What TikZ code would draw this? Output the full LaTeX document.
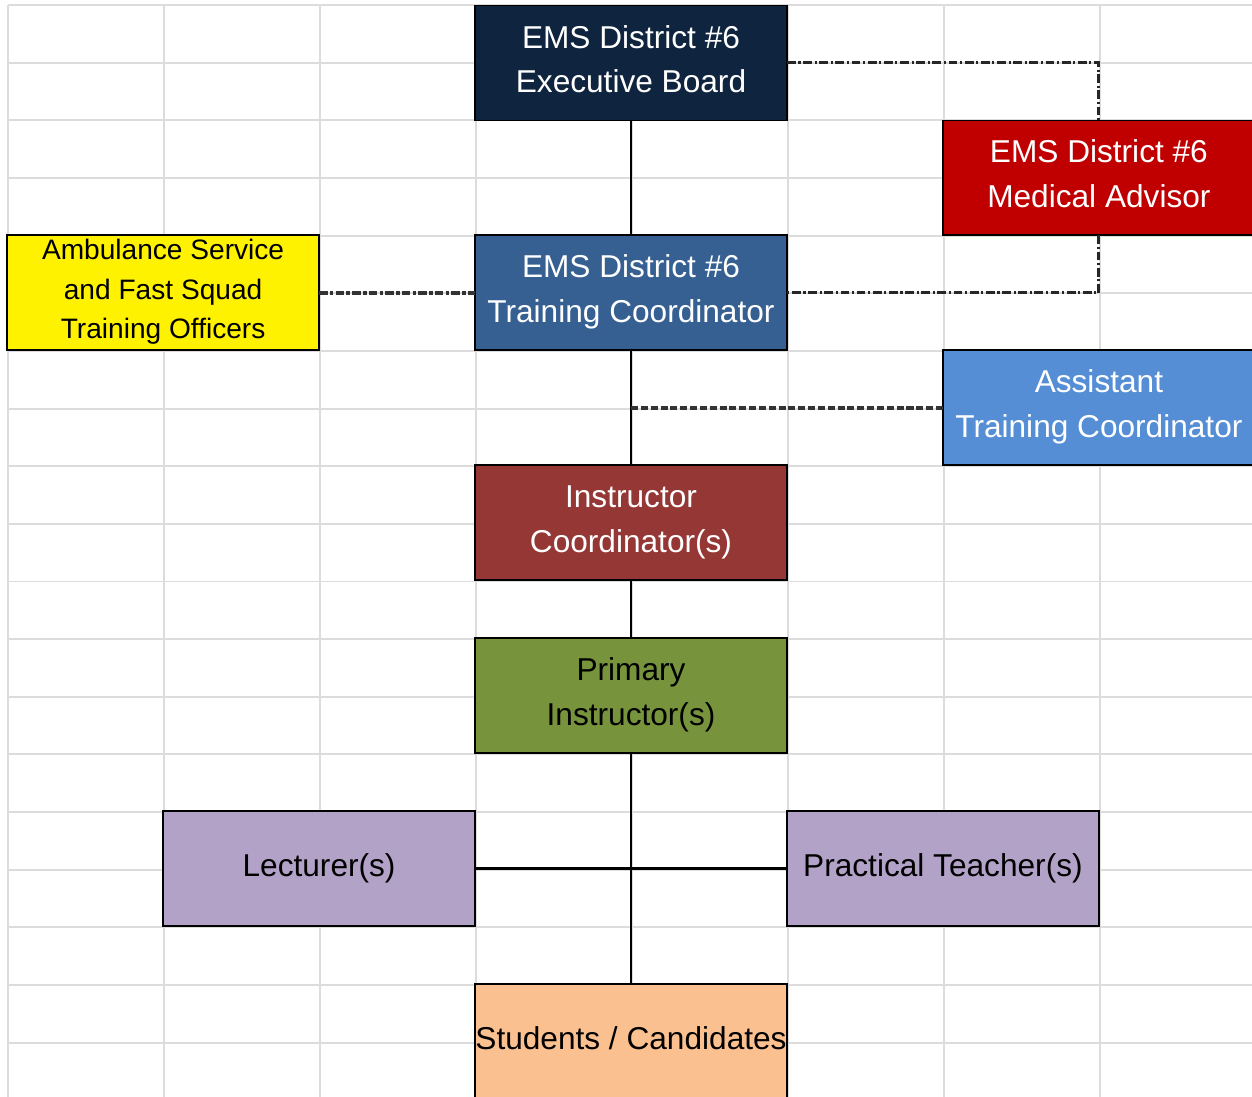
\documentclass[tikz,border=0pt]{standalone}
\usepackage{fontspec}
\setmainfont{Liberation Sans}
\usepackage{xcolor}
\usepackage{tikz}
\usetikzlibrary{positioning}

\definecolor{boardblue}{HTML}{0F243E}
\definecolor{coordblue}{HTML}{366092}
\definecolor{asstblue}{HTML}{558ED5}
\definecolor{advisorred}{HTML}{C00000}
\definecolor{instrred}{HTML}{953735}
\definecolor{primgreen}{HTML}{77933C}
\definecolor{lilac}{HTML}{B3A2C7}
\definecolor{peach}{HTML}{FAC090}
\definecolor{gridgray}{HTML}{DCDCDC}

\begin{document}
\begin{tikzpicture}[x=0.02cm, y=-0.02cm, thick]
\tikzstyle{box} = [draw=black, line width=1.1pt, minimum width=6.24cm, minimum height=2.3cm,
  align=center, inner sep=0pt, outer sep=0pt, text depth=4.6pt, font=\fontsize{18}{25.5}\selectfont]
\tikzstyle{gridline} = [gridgray, line width=1.1pt]
\tikzstyle{link} = [black, line width=1.6pt]
\tikzstyle{dotlink} = [black!85, line width=1.7pt, dash pattern=on 5pt off 1.5pt on 1.2pt off 1.5pt]
\tikzstyle{dashlink} = [black!80, line width=1.8pt, dash pattern=on 4pt off 1.6pt]
\tikzstyle{mixlink} = [black!80, line width=1.8pt, dash pattern=on 5pt off 1.2pt on 2pt off 1.2pt]
\useasboundingbox (0,0) rectangle (1252,1097);
% sheet grid
\foreach \i in {0,...,7}
\draw [gridline] (8+156*\i,5) -- (8+156*\i,1097);
\foreach \j in {0,...,18}
\draw [gridline] (8,5+57.65*\j) -- (1252,5+57.65*\j);
% boxes
\node (eb) [box, fill=boardblue, text=white] at (631,63) {EMS District \#6\\Executive Board};
\node (tc) [box, fill=coordblue, text=white, below=2.3cm of eb] {EMS District \#6\\Training Coordinator};
\node (ma) [box, fill=advisorred, text=white, right=3.12cm of tc, yshift=2.3cm] {EMS District \#6\\Medical Advisor};
\node (atc) [box, fill=asstblue, text=white, right=3.12cm of tc, yshift=-2.3cm] {Assistant\\Training Coordinator};
\node (amb) [box, fill=yellow, left=3.12cm of tc, font=\fontsize{16}{22.7}\selectfont] {Ambulance Service\\and Fast Squad\\Training Officers};
\node (ic) [box, fill=instrred, text=white, below=2.3cm of tc] {Instructor\\Coordinator(s)};
\node (pi) [box, fill=primgreen, below=1.16cm of ic] {Primary\\Instructor(s)};
\node (lec) [box, fill=lilac, below=1.16cm of pi, xshift=-6.24cm] {Lecturer(s)};
\node (pt) [box, fill=lilac, below=1.16cm of pi, xshift=6.24cm] {Practical Teacher(s)};
\node (stu) [box, fill=peach, below=4.62cm of pi] {Students / Candidates};
\coordinate (split) at (tc.south |- atc.west);
% connectors
\foreach \from/\to in {eb/tc, tc/ic, ic/pi, pi/stu}
\draw [link] (\from) -- (\to);
\draw [link] (lec.east) -- (pt.west);
\draw [dotlink] (eb.east) -| (ma.north);
\draw [dotlink] (ma.south) |- (tc.east);
\draw [mixlink] (amb.east) -- (tc.west);
\draw [dashlink] (split) -- (atc.west);
\end{tikzpicture}
\end{document}
